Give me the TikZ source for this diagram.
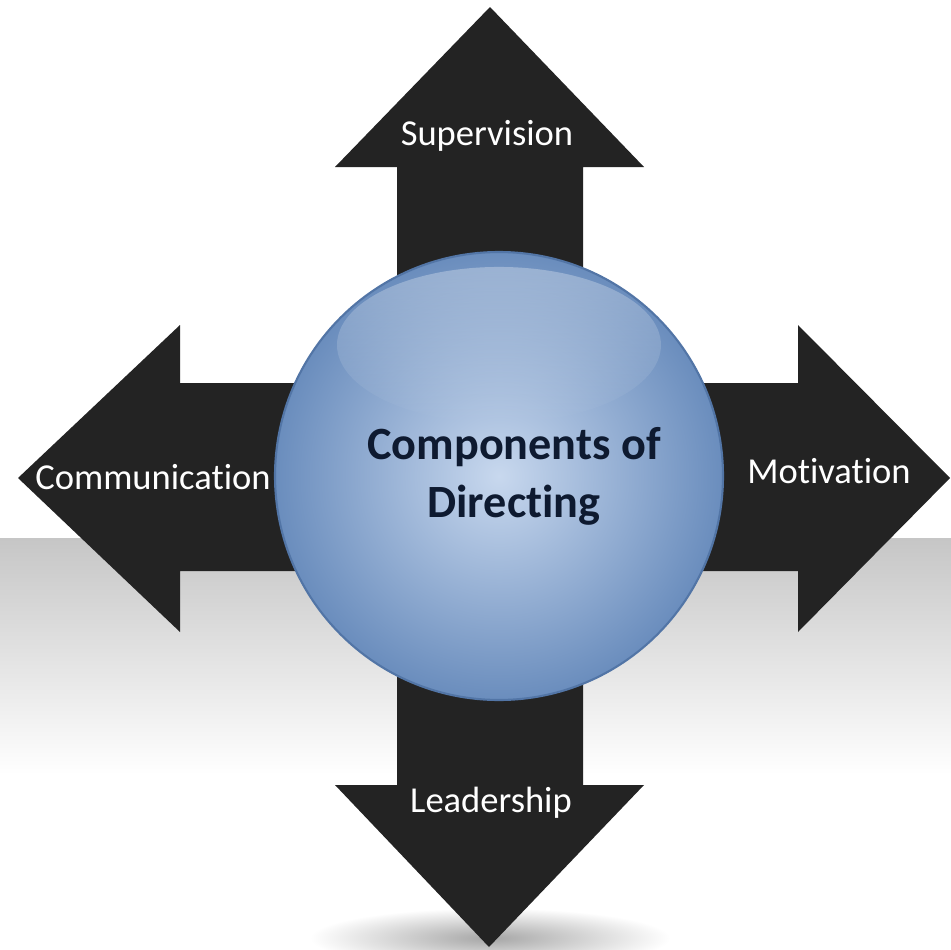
\documentclass[tikz,border=0pt]{standalone}
\usepackage{fontspec}
\setmainfont{Carlito}[Ligatures=NoCommon]
\usepackage{tikz}
\usetikzlibrary{fadings}

\definecolor{arrowgray}{HTML}{232323}
\definecolor{bandgray}{HTML}{C6C6C6}
\definecolor{hubinner}{HTML}{C8D8EE}
\definecolor{hubouter}{HTML}{6A8DBD}
\definecolor{hubrim}{HTML}{5275A6}
\definecolor{hubtext}{HTML}{0E1A30}

\begin{document}
\begin{tikzpicture}[x=0.02cm,y=-0.02cm,
    armlabel/.style={text=white,font=\fontsize{20.8}{25}\selectfont},
    hublabel/.style={text=hubtext,font=\bfseries\fontsize{26.3}{33}\selectfont,align=center}]
    \useasboundingbox (0,0) rectangle (951,950);
    \fill[white] (0,0) rectangle (951,950);
    \shade[top color=bandgray,bottom color=white] (0,538) rectangle (951,775);
    \shade[inner color=black!35,outer color=white] (490,938) ellipse [x radius=180,y radius=30];
    % the four arms
    \fill[arrowgray] (397,476) -- (397,167) -- (335,167) -- (490,7) -- (644,167) -- (583,167) -- (583,476) -- cycle;
    \fill[arrowgray] (397,476) -- (397,785) -- (335,785) -- (489,947) -- (644,785) -- (583,785) -- (583,476) -- cycle;
    \fill[arrowgray] (499,383) -- (180,383) -- (180,325) -- (18,478) -- (180,632) -- (180,571) -- (499,571) -- cycle;
    \fill[arrowgray] (499,383) -- (798,383) -- (798,325) -- (950,478) -- (798,632) -- (798,571) -- (499,571) -- cycle;
    % the hub
    \shade[inner color=hubinner,outer color=hubouter] (499,476) circle (224);
    \fill[white,opacity=0.3,path fading=south] (499,345) ellipse [x radius=162,y radius=78];
    \draw[hubrim,line width=1.2pt] (499,476) circle (224);
    \node[hublabel] (hub) at (514,476) {Components of\\Directing};
    \node[armlabel] (sup) at (487,136) {Supervision};
    \node[armlabel] (com) at (153,477) {Communication};
    \node[armlabel] (mot) at (829,471) {Motivation};
    \node[armlabel] (lea) at (491,803) {Leadership};
  \end{tikzpicture}
\end{document}
